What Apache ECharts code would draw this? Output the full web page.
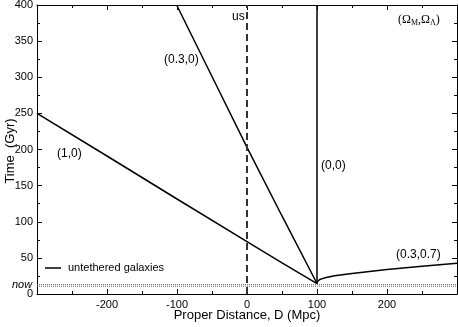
<!DOCTYPE html>
<html lang="en">
<head>
  <meta charset="UTF-8">
  <title>Untethered galaxies</title>
  <style>
    * { margin: 0; padding: 0; }
    body { background: #fff; }
    #main { width: 458px; height: 327px; }
  </style>
</head>
<body>
  <div id="main"></div>
  <script src="https://cdn.jsdelivr.net/npm/echarts@6/dist/echarts.min.js"></script>
  <script>
    // trajectories, [D (Mpc), t (Gyr)]
    var model10 = [[100, 14.5], [50, 43], [0, 72.5], [-100, 131.5], [-200, 191], [-300, 250]];
    var model030 = [[100, 14.5], [50, 108], [0, 203], [-50, 301], [-100.5, 400]];
    var model00 = [[100, 14.5], [100, 400]];
    var model0307 = [[100, 14.5], [101, 17.5], [104, 20], [110, 22], [125, 25.3], [150, 28.5], [200, 34], [250, 38.5], [300, 42.5]];
    var usLine = [[0, 0], [0, 400]];
    var nowLines = [13, 10.8];

    var xTicks = [-200, -100, 0, 100, 200];
    var font = 'Liberation Sans, Arial, sans-serif';

    var chart = echarts.init(document.getElementById('main'));

    function curve(data, extra) {
      var s = {
        type: 'line',
        data: data,
        showSymbol: false,
        silent: true,
        lineStyle: { color: '#000', width: 1.5 },
        z: 3
      };
      for (var k in extra) s[k] = extra[k];
      return s;
    }

    var axisCommon = {
      axisLine: { onZero: false, lineStyle: { color: '#000', width: 1 } },
      axisTick: { inside: true, length: 5, lineStyle: { color: '#000' } },
      minorTick: { show: true, splitNumber: 2, length: 3, lineStyle: { color: '#000' } },
      splitLine: { show: false }
    };

    var series = [
      curve(model10),
      curve(model030),
      curve(model00),
      curve(model0307),
      curve(usLine, { lineStyle: { color: '#333', width: 2, type: [7, 4] } })
    ];
    nowLines.forEach(function (t) {
      series.push(curve([[-300, t], [300, t]], { lineStyle: { color: '#666', width: 1, type: [1, 1] }, z: 2 }));
    });

    var option = {
      animation: false,
      grid: { left: 37, right: 1, top: 5, bottom: 33, containLabel: false, outerBoundsMode: 'none' },
      xAxis: [
        Object.assign({}, axisCommon, {
          type: 'value', min: -300, max: 300, interval: 100,
          axisLabel: {
            fontFamily: font, fontSize: 11, color: '#000', margin: 5,
            formatter: function (v) { return xTicks.indexOf(v) >= 0 ? String(v) : ''; }
          }
        }),
        Object.assign({}, axisCommon, {
          type: 'value', min: -300, max: 300, interval: 100, position: 'top',
          axisLabel: { show: false }
        })
      ],
      yAxis: [
        Object.assign({}, axisCommon, {
          type: 'value', min: 0, max: 400, interval: 50,
          axisLabel: { fontFamily: font, fontSize: 11, color: '#000', margin: 4 }
        }),
        Object.assign({}, axisCommon, {
          type: 'value', min: 0, max: 400, interval: 50, position: 'right',
          axisLabel: { show: false }
        })
      ],
      series: series,
      graphic: [
        // axis titles
        { type: 'text', x: 247, y: 315, style: { text: 'Proper Distance, D (Mpc)', fontFamily: font, fontSize: 13, fill: '#000', align: 'center', verticalAlign: 'middle' } },
        { type: 'text', x: 10, y: 151, rotation: Math.PI / 2, style: { text: 'Time  (Gyr)', fontFamily: font, fontSize: 13, fill: '#000', align: 'center', verticalAlign: 'middle' } },
        // extra tick label and legend
        { type: 'text', left: 12, top: 279, style: { text: 'now', fontFamily: font, fontStyle: 'italic', fontSize: 11, fill: '#000' } },
        { type: 'line', shape: { x1: 45, y1: 268, x2: 61, y2: 268 }, style: { stroke: '#000', lineWidth: 1.5 } },
        { type: 'text', left: 68, top: 262, style: { text: 'untethered galaxies', fontFamily: font, fontSize: 11, fill: '#000' } },
        // curve labels
        { type: 'text', left: 57, top: 148, style: { text: '(1,0)', fontFamily: font, fontSize: 12, fill: '#000' } },
        { type: 'text', left: 164, top: 54, style: { text: '(0.3,0)', fontFamily: font, fontSize: 12, fill: '#000' } },
        { type: 'text', left: 232, top: 11, style: { text: 'us', fontFamily: font, fontSize: 12, fill: '#000' } },
        { type: 'text', left: 321, top: 160, style: { text: '(0,0)', fontFamily: font, fontSize: 12, fill: '#000' } },
        { type: 'text', left: 396, top: 249, style: { text: '(0.3,0.7)', fontFamily: font, fontSize: 12, fill: '#000' } },
        {
          type: 'text', left: 398, top: 14,
          style: {
            text: '(Ω{s|M},Ω{s|Λ})',
            fontFamily: 'Liberation Serif, Times New Roman, serif', fontSize: 12, fill: '#000',
            rich: { s: { fontFamily: 'Liberation Serif, serif', fontSize: 8, verticalAlign: 'bottom', padding: [6, 0, 0, 0] } }
          }
        }
      ]
    };

    chart.setOption(option);
  </script>
</body>
</html>
